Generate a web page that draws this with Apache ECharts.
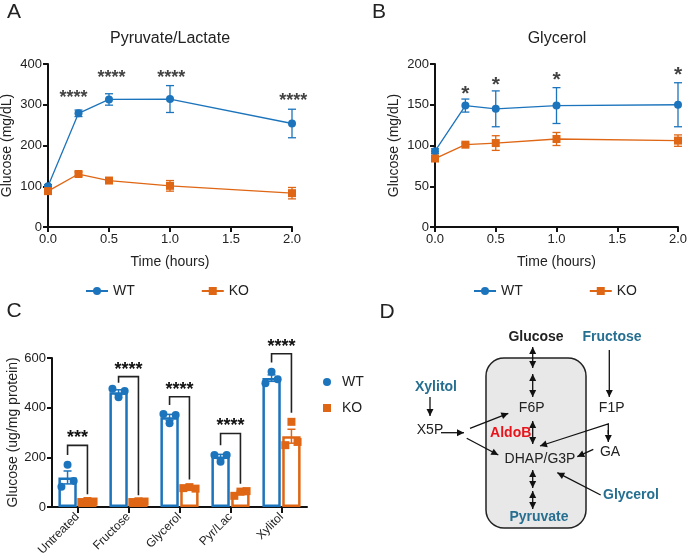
<!DOCTYPE html>
<html>
<head>
<meta charset="utf-8">
<script src="https://cdn.jsdelivr.net/npm/echarts@6/dist/echarts.min.js"></script>
<style>html,body{margin:0;padding:0;background:#fff}#main{width:688px;height:559px}</style>
</head>
<body>
<div id="main"></div>
<script>
const chart = echarts.init(document.getElementById('main'));

const BLUE = '#1c74bc';
const ORANGE = '#df6614';
const TEAL = '#266f91';
const FONT = 'Liberation Sans, Arial, sans-serif';

// Panel A - Pyruvate/Lactate
const timesA = [0, 0.25, 0.5, 1, 2];
const wtA = [100, 279, 313, 314, 254];
const wtErrA = [4, 8, 14, 33, 35];
const koA = [88, 130, 114, 101, 83];
const koErrA = [3, 5, 4, 13, 14];
const starXA = [0.21, 0.52, 1.01, 2.01];
const starYA = [316, 365, 365, 308];

// Panel B - Glycerol
const timesB = [0, 0.25, 0.5, 1, 2];
const wtB = [93, 149, 145, 149, 150];
const wtErrB = [3, 8, 22, 22, 27];
const koB = [84, 101, 103, 108, 106];
const koErrB = [2, 2, 9, 8, 7];
const starXB = [0.25, 0.5, 1, 2];
const starYB = [163, 174, 180, 186];

// Panel C - glucose output per treatment
const categories = ['Untreated', 'Fructose', 'Glycerol', 'Pyr/Lac', 'Xylitol'];
const wtMeanC = [119, 462, 361, 203, 519];
const wtSemC = [26, 10, 12, 9, 13];
const wtPtsC = [[82, 170, 105], [476, 442, 467], [375, 337, 370], [209, 182, 209], [498, 545, 514]];
const koMeanC = [22, 22, 77, 57, 285];
const koSemC = [2, 2, 3, 7, 28];
const koPtsC = [[20, 24, 22], [20, 23, 22], [76, 80, 74], [45, 62, 64], [249, 343, 262]];
const sigC = ['***', '****', '****', '****', '****'];
const bracketTopC = [248, 525, 444, 296, 617];
const bracketLeftC = [209, 500, 411, 249, 582];
const bracketRightC = [51, 47, 111, 94, 380];

const SIDE = 0.195; // offset of each bar centre in a category, as share of band

function errRender(params, api) {
  const x = api.value(0);
  const p1 = api.coord([x, api.value(1)]);
  const p2 = api.coord([x, api.value(2)]);
  const w = 4;
  const style = { stroke: api.visual('color'), lineWidth: 1.3 };
  return { type: 'group', children: [
    { type: 'line', shape: { x1: p1[0], y1: p1[1], x2: p2[0], y2: p2[1] }, style },
    { type: 'line', shape: { x1: p1[0] - w, y1: p1[1], x2: p1[0] + w, y2: p1[1] }, style },
    { type: 'line', shape: { x1: p2[0] - w, y1: p2[1], x2: p2[0] + w, y2: p2[1] }, style }
  ] };
}

function barErrRender(side) {
  return function (params, api) {
    const band = api.size([1, 0])[0];
    const p1 = api.coord([api.value(0), api.value(1)]);
    const p2 = api.coord([api.value(0), api.value(2)]);
    const x = p1[0] + side * SIDE * band;
    const w = 4;
    const style = { stroke: api.visual('color'), lineWidth: 1.5 };
    return { type: 'group', children: [
      { type: 'line', shape: { x1: x, y1: p1[1], x2: x, y2: p2[1] }, style },
      { type: 'line', shape: { x1: x - w, y1: p1[1], x2: x + w, y2: p1[1] }, style },
      { type: 'line', shape: { x1: x - w, y1: p2[1], x2: x + w, y2: p2[1] }, style }
    ] };
  };
}

function ptsRender(side, shape) {
  return function (params, api) {
    const band = api.size([1, 0])[0];
    const p = api.coord([api.value(0), api.value(1)]);
    const cx = p[0] + side * SIDE * band + (api.value(2) - 1) * 0.12 * band;
    const fill = api.visual('color');
    if (shape === 'circle') {
      return { type: 'circle', shape: { cx, cy: p[1], r: 4 }, style: { fill } };
    }
    return { type: 'rect', shape: { x: cx - 4, y: p[1] - 4, width: 8, height: 8 }, style: { fill } };
  };
}

function bracketRender(params, api) {
  const band = api.size([1, 0])[0];
  const cat = api.value(0);
  const top = api.coord([cat, api.value(1)]);
  const l = api.coord([cat, api.value(2)]);
  const r = api.coord([cat, api.value(3)]);
  const xl = top[0] - SIDE * band;
  const xr = top[0] + SIDE * band;
  return { type: 'group', children: [
    { type: 'polyline', shape: { points: [[xl, l[1]], [xl, top[1]], [xr, top[1]], [xr, r[1]]] },
      style: { stroke: '#222', lineWidth: 1.6, fill: null } },
    { type: 'text', style: { text: sigC[params.dataIndex], x: top[0], y: top[1] - 7,
      align: 'center', verticalAlign: 'middle', font: 'bold 18px ' + FONT, fill: '#111' } }
  ] };
}

function arrow(x1, y1, x2, y2, both) {
  const els = [{ type: 'line', shape: { x1, y1, x2, y2 }, style: { stroke: '#111', lineWidth: 1.3 } }];
  const head = (tx, ty, fx, fy) => {
    const a = Math.atan2(ty - fy, tx - fx), L = 7, W = 3.5;
    const bx = tx - L * Math.cos(a), by = ty - L * Math.sin(a);
    return { type: 'polygon', shape: { points: [[tx, ty],
      [bx + W * Math.sin(a), by - W * Math.cos(a)], [bx - W * Math.sin(a), by + W * Math.cos(a)]] },
      style: { fill: '#111' } };
  };
  els.push(head(x2, y2, x1, y1));
  if (both) els.push(head(x1, y1, x2, y2));
  return els;
}

function txt(text, x, y, opts) {
  opts = opts || {};
  return { type: 'text', z: 10, style: { text, x, y, align: opts.align || 'center', verticalAlign: 'middle',
    font: (opts.bold ? 'bold ' : '') + (opts.size || 14) + 'px ' + FONT, fill: opts.color || '#222' } };
}

const axisLine = { show: true, lineStyle: { color: '#111', width: 2 } };
const axisTick = { show: true, length: 5, lineStyle: { color: '#111', width: 2 } };
const axisLabel = { fontSize: 13, color: '#222', fontFamily: FONT, margin: 6 };
const nameStyle = { fontSize: 14, color: '#222', fontFamily: FONT };

function timeAxis(idx) {
  return { gridIndex: idx, type: 'value', min: 0, max: 2, interval: 0.5,
    axisLine, axisTick, splitLine: { show: false },
    axisLabel: Object.assign({ formatter: v => v.toFixed(1) }, axisLabel),
    name: 'Time (hours)', nameLocation: 'middle', nameGap: 28, nameTextStyle: nameStyle };
}
function glucAxis(idx, max, interval, name, gap) {
  return { gridIndex: idx, type: 'value', min: 0, max, interval,
    axisLine, axisTick, splitLine: { show: false }, axisLabel,
    name, nameLocation: 'middle', nameGap: gap, nameTextStyle: nameStyle };
}

function lineSeries(name, idx, times, vals, color, symbol) {
  return { name, type: 'line', xAxisIndex: idx, yAxisIndex: idx, z: 3,
    data: times.map((t, i) => [t, vals[i]]), symbol, symbolSize: 8,
    itemStyle: { color }, lineStyle: { color, width: 1.3 } };
}
function errSeries(idx, times, vals, errs, color) {
  return { name: 'err', type: 'custom', xAxisIndex: idx, yAxisIndex: idx, z: 2,
    itemStyle: { color }, renderItem: errRender,
    data: times.map((t, i) => [t, vals[i] - errs[i], vals[i] + errs[i]]) };
}
function starSeries(idx, xs, ys, label, size) {
  return { name: 'stars', type: 'scatter', xAxisIndex: idx, yAxisIndex: idx, z: 5, clip: false,
    symbol: 'circle', symbolSize: 1, itemStyle: { color: 'rgba(0,0,0,0)' },
    data: xs.map((x, i) => [x, ys[i]]),
    label: { show: true, position: 'inside', formatter: label, fontSize: size, fontWeight: 'bold',
      color: '#111', fontFamily: FONT } };
}

const diagram = [
  { type: 'rect', shape: { x: 486, y: 358, width: 100, height: 170, r: 18 },
    style: { fill: '#e8e8e8', stroke: '#222', lineWidth: 1.5 } },
  ...arrow(532.7, 347, 532.7, 368, true),
  ...arrow(532.7, 374, 532.7, 397, true),
  ...arrow(532.7, 421, 532.7, 444, true),
  ...arrow(532.7, 470, 532.7, 488, true),
  ...arrow(532.7, 491, 532.7, 509, true),
  ...arrow(609.3, 350, 609.3, 397, false),
  ...arrow(430, 397, 430, 416, false),
  ...arrow(441, 432.7, 464, 432.7, false),
  ...arrow(470, 428.3, 508.3, 413.3, false),
  ...arrow(466.7, 438.3, 498.3, 455, false),
  { type: 'polyline', shape: { points: [[560, 439.5], [608.3, 424], [608.3, 434]] },
    style: { stroke: '#111', lineWidth: 1.3, fill: null } },
  ...arrow(560, 439.5, 540, 446, false),
  ...arrow(608.3, 430, 608.3, 442, false),
  ...arrow(593.3, 449.3, 577.3, 456.7, false),
  ...arrow(600.7, 495, 557.3, 472.7, false),
  txt('Glucose', 536, 337, { bold: true }),
  txt('Fructose', 612, 337, { bold: true, color: TEAL }),
  txt('Xylitol', 436, 387, { bold: true, color: TEAL }),
  txt('F6P', 531.7, 408.5),
  txt('F1P', 611.7, 408.5),
  txt('X5P', 430, 430),
  txt('AldoB', 510.7, 433, { bold: true, color: '#e8141b' }),
  txt('DHAP/G3P', 540, 459.5),
  txt('GA', 610, 452),
  txt('Glycerol', 631, 495, { bold: true, color: TEAL }),
  txt('Pyruvate', 539, 517, { bold: true, color: TEAL })
];

const option = {
  animation: false,
  textStyle: { fontFamily: FONT },
  grid: [
    { left: 48, top: 64, width: 244, height: 163, outerBoundsMode: 'none' },
    { left: 435, top: 64, width: 243, height: 163, outerBoundsMode: 'none' },
    { left: 52, top: 358, width: 255, height: 149, outerBoundsMode: 'none' }
  ],
  xAxis: [
    timeAxis(0),
    timeAxis(1),
    { gridIndex: 2, type: 'category', data: categories, axisLine,
      axisTick: Object.assign({ alignWithLabel: true }, axisTick, { length: 6 }),
      axisLabel: Object.assign({}, axisLabel, { rotate: 45, fontSize: 12, margin: 8 }) }
  ],
  yAxis: [
    glucAxis(0, 400, 100, 'Glucose (mg/dL)', 34),
    glucAxis(1, 200, 50, 'Glucose (mg/dL)', 34),
    glucAxis(2, 600, 200, 'Glucose (ug/mg protein)', 31)
  ],
  legend: [
    { data: ['WT', 'KO'], left: 80, top: 279, itemWidth: 22, itemHeight: 10, itemGap: 66,
      textStyle: { fontSize: 14, color: '#222' } },
    { data: ['WT', 'KO'], left: 468, top: 279, itemWidth: 22, itemHeight: 10, itemGap: 66,
      textStyle: { fontSize: 14, color: '#222' } },
    { data: [{ name: 'WT', icon: 'circle' }, { name: 'KO', icon: 'rect' }], orient: 'vertical',
      left: 318, top: 370, itemWidth: 8, itemHeight: 8, itemGap: 12,
      textStyle: { fontSize: 14, color: '#222', padding: [0, 0, 0, 6] } }
  ],
  series: [
    lineSeries('WT', 0, timesA, wtA, BLUE, 'circle'),
    lineSeries('KO', 0, timesA, koA, ORANGE, 'rect'),
    errSeries(0, timesA, wtA, wtErrA, BLUE),
    errSeries(0, timesA, koA, koErrA, ORANGE),
    starSeries(0, starXA, starYA, '****', 18),
    lineSeries('WT', 1, timesB, wtB, BLUE, 'circle'),
    lineSeries('KO', 1, timesB, koB, ORANGE, 'rect'),
    errSeries(1, timesB, wtB, wtErrB, BLUE),
    errSeries(1, timesB, koB, koErrB, ORANGE),
    starSeries(1, starXB, starYB, '*', 21),
    { name: 'WT', type: 'bar', xAxisIndex: 2, yAxisIndex: 2, data: wtMeanC, barWidth: '36%', barGap: '8%',
      itemStyle: { color: '#fff', borderColor: BLUE, borderWidth: 2.5 } },
    { name: 'KO', type: 'bar', xAxisIndex: 2, yAxisIndex: 2, data: koMeanC, barWidth: '36%', barGap: '8%',
      itemStyle: { color: '#fff', borderColor: ORANGE, borderWidth: 2.5 } },
    { name: 'wtErrC', type: 'custom', xAxisIndex: 2, yAxisIndex: 2, z: 3, itemStyle: { color: BLUE },
      renderItem: barErrRender(-1), data: wtMeanC.map((m, i) => [i, m - wtSemC[i], m + wtSemC[i]]) },
    { name: 'koErrC', type: 'custom', xAxisIndex: 2, yAxisIndex: 2, z: 3, itemStyle: { color: ORANGE },
      renderItem: barErrRender(1), data: koMeanC.map((m, i) => [i, m - koSemC[i], m + koSemC[i]]) },
    { name: 'wtPtsC', type: 'custom', xAxisIndex: 2, yAxisIndex: 2, z: 4, itemStyle: { color: BLUE },
      renderItem: ptsRender(-1, 'circle'), data: wtPtsC.flatMap((a, i) => a.map((v, j) => [i, v, j])) },
    { name: 'koPtsC', type: 'custom', xAxisIndex: 2, yAxisIndex: 2, z: 4, itemStyle: { color: ORANGE },
      renderItem: ptsRender(1, 'rect'), data: koPtsC.flatMap((a, i) => a.map((v, j) => [i, v, j])) },
    { name: 'sigC', type: 'custom', xAxisIndex: 2, yAxisIndex: 2, z: 5,
      renderItem: bracketRender,
      data: categories.map((c, i) => [i, bracketTopC[i], bracketLeftC[i], bracketRightC[i]]) }
  ],
  graphic: { elements: [
    txt('A', 14, 12, { size: 21 }),
    txt('B', 379, 12, { size: 21 }),
    txt('C', 14, 311, { size: 21 }),
    txt('D', 387, 312, { size: 21 }),
    txt('Pyruvate/Lactate', 170, 39, { size: 16 }),
    txt('Glycerol', 557, 39, { size: 16 }),
    ...diagram
  ] }
};

chart.setOption(option);
</script>
</body>
</html>
